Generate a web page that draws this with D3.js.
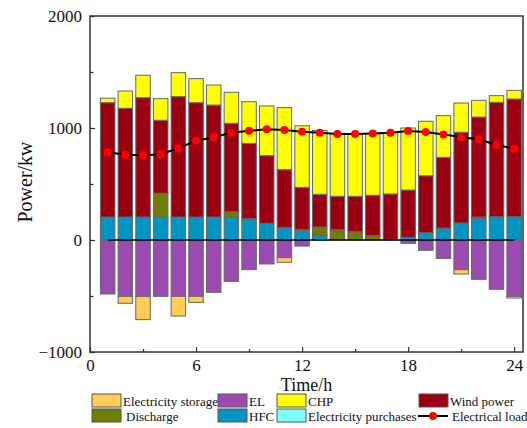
<!DOCTYPE html>
<html><head><meta charset="utf-8">
<script src="https://cdn.jsdelivr.net/npm/d3@7"></script>
<style>
body{margin:0;background:#fff}
svg{display:block}
text{font-family:"Liberation Serif","Times New Roman",serif;fill:#111}
</style>
</head><body><svg id="c" width="527" height="428"></svg>
<script>
const hours = [1,2,3,4,5,6,7,8,9,10,11,12,13,14,15,16,17,18,19,20,21,22,23,24];
const hfc = [205,205,205,205,205,205,205,205,190,149,110,85,42,5,0,0,0,24,65,107,152,193,208,208];
const discharge = [0,0,0,212,0,0,0,48,0,0,0,10,74,87,74,39,0,0,0,0,0,12,0,0];
const windPower = [1021,971,1066,652,1075,1021,1000,789,673,604,518,375,292,298,316,360,411,422,509,631,810,893,1021,1051];
const chp = [40,154,200,193,214,215,179,277,372,444,554,550,570,562,556,553,547,554,486,372,261,149,60,77];
const purchases = [0,0,0,0,0,0,0,0,0,0,0,0,0,0,0,0,0,0,0,0,0,0,0,0];
const el = [-482,-503,-503,-503,-503,-503,-467,-369,-265,-214,-158,-54,0,0,0,0,0,-30,-92,-164,-265,-351,-440,-503];
const storage = [0,-62,-208,0,-176,-54,0,0,0,0,-41,0,0,0,0,0,0,0,0,0,-39,0,0,-15];
const load = [783,762,756,765,819,887,917,958,975,988,982,967,958,946,946,952,958,973,964,943,917,899,848,815];
const xTicks = [0,6,12,18,24];
const xMinor = [3,9,15,21];
const yTicks = [-1000,0,1000,2000];
const yMinor = [-500,500,1500];

const series = [
  {key:"hfc", name:"HFC", color:"#0095c3", values:hfc},
  {key:"discharge", name:"Discharge", color:"#6f7d00", values:discharge},
  {key:"wind", name:"Wind power", color:"#9a0012", values:windPower},
  {key:"chp", name:"CHP", color:"#ffff00", values:chp},
  {key:"purch", name:"Electricity purchases", color:"#80ffff", values:purchases},
  {key:"el", name:"EL", color:"#9b4bb0", values:el},
  {key:"storage", name:"Electricity storage", color:"#ffcc55", values:storage}
];
const colorOf = Object.fromEntries(series.map(s=>[s.key,s.color]));

const rows = hours.map((h,i)=>{
  const r = {hour:h};
  series.forEach(s=>r[s.key]=s.values[i]);
  return r;
});

const svg = d3.select("#c");
const x = d3.scaleLinear().domain([0,24.5]).range([90,523]);
const y = d3.scaleLinear().domain([-1000,2000]).range([352,16]);
const bw = x(0.82)-x(0);

const stack = d3.stack().keys(series.map(s=>s.key)).offset(d3.stackOffsetDiverging);
const stacked = stack(rows);

const g = svg.append("g");
stacked.forEach(layer=>{
  g.selectAll(null).data(layer.filter(d=>d[1]!==d[0])).enter().append("rect")
    .attr("x",d=>x(d.data.hour)-bw/2)
    .attr("width",bw)
    .attr("y",d=>y(Math.max(d[0],d[1])))
    .attr("height",d=>Math.abs(y(d[0])-y(d[1])))
    .attr("fill",colorOf[layer.key])
    .attr("stroke","#666")
    .attr("stroke-width",1);
});

// zero line
svg.append("line").attr("x1",x(hours[0])).attr("x2",x(hours[hours.length-1]))
  .attr("y1",y(0)).attr("y2",y(0)).attr("stroke","#000").attr("stroke-width",1.3);

// load line
svg.append("path").datum(load)
  .attr("d",d3.line().x((d,i)=>x(hours[i])).y(d=>y(d)))
  .attr("fill","none").attr("stroke","#000").attr("stroke-width",2);
svg.selectAll(null).data(load).enter().append("circle")
  .attr("cx",(d,i)=>x(hours[i])).attr("cy",d=>y(d)).attr("r",4).attr("fill","#ff0000");

// axes
const axL = svg.append("g").attr("transform","translate(90,0)")
  .call(d3.axisLeft(y).tickValues(yTicks).tickSize(-5).tickPadding(8).tickFormat(d3.format("d")));
const axLm = svg.append("g").attr("transform","translate(90,0)")
  .call(d3.axisLeft(y).tickValues(yMinor).tickSize(-3.5).tickFormat(""));
const axB = svg.append("g").attr("transform","translate(0,352)")
  .call(d3.axisBottom(x).tickValues(xTicks).tickSize(-5).tickPadding(6.5));
const axBm = svg.append("g").attr("transform","translate(0,352)")
  .call(d3.axisBottom(x).tickValues(xMinor).tickSize(-3).tickFormat(""));
[axL,axLm,axB,axBm].forEach(a=>{
  a.select(".domain").remove();
  a.selectAll("line").attr("stroke","#333").attr("stroke-width",1.2);
  a.selectAll("text").attr("font-size",17).attr("fill","#111")
    .attr("font-family",'"Liberation Serif","Times New Roman",serif');
});

// frame
svg.append("rect").attr("x",90).attr("y",16).attr("width",433).attr("height",336)
  .attr("fill","none").attr("stroke","#333").attr("stroke-width",1.5);

// axis titles
svg.append("text").attr("x",306.5).attr("y",390.5).attr("text-anchor","middle")
  .attr("font-size",18).text("Time/h");
svg.append("text").attr("transform","translate(32,182) rotate(-90)").attr("text-anchor","middle")
  .attr("font-size",20).text("Power/kw");

// legend
const legendItems = [
  {key:"storage", col:0, row:0},
  {key:"el", col:1, row:0},
  {key:"chp", col:2, row:0},
  {key:"wind", col:3, row:0},
  {key:"discharge", col:0, row:1},
  {key:"hfc", col:1, row:1},
  {key:"purch", col:2, row:1},
  {key:"load", col:3, row:1}
];
const colX = [92,218,277,419];
const rowY = [394,409];
const lg = svg.append("g");
legendItems.forEach(it=>{
  const x0 = colX[it.col], y0 = rowY[it.row];
  const s = series.find(s=>s.key===it.key);
  if(it.key==="load"){
    lg.append("line").attr("x1",x0-1).attr("x2",x0+29).attr("y1",y0+7).attr("y2",y0+7)
      .attr("stroke","#000").attr("stroke-width",2);
    lg.append("circle").attr("cx",x0+14).attr("cy",y0+7).attr("r",4).attr("fill","#ff0000");
    lg.append("text").attr("x",x0+33).attr("y",y0+12.2).attr("font-size",13).text("Electrical load");
  } else {
    lg.append("rect").attr("x",x0).attr("y",y0).attr("width",29).attr("height",13)
      .attr("fill",s.color).attr("stroke","#555").attr("stroke-width",1);
    const dx = (it.key==="discharge") ? 34 : 31;
    lg.append("text").attr("x",x0+dx).attr("y",y0+12.2).attr("font-size",13).text(s.name);
  }
});
</script>
</body></html>
